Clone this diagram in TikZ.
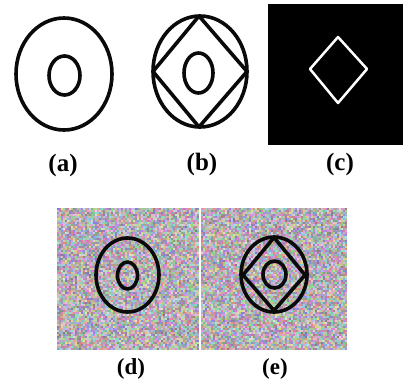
\documentclass[tikz,border=0pt]{standalone}
\usepackage{fontspec}
\setmainfont{Liberation Serif}
\usepackage{xcolor}
\definecolor{inkColor}{HTML}{0A0A0A}
\tikzset{
    ring/.style={draw=inkColor, line width=3.6pt, line join=round},
    caption/.style={font=\fontsize{25}{25}\selectfont\bfseries, inner sep=0pt},
    smallcaption/.style={font=\fontsize{23}{23}\selectfont\bfseries, inner sep=0pt},
}
% random coloured cells: #1,#2 = top left, #3,#4 = last cell index in x and y
\newcommand{\noisepatch}[4]{%
    \begin{scope}
        \clip (#1,#2) rectangle ++({2*(#3+1)},{2*(#4+1)});
        \foreach \i in {0,...,#3}
            \foreach \j in {0,...,#4} {
                \pgfmathrandominteger{\rr}{125}{235}%
                \pgfmathrandominteger{\gg}{120}{225}%
                \pgfmathrandominteger{\bb}{125}{235}%
                \definecolor{nz}{RGB}{\rr,\gg,\bb}%
                \fill[nz] ({#1+2*\i},{#2+2*\j}) rectangle +(2,2);
            }
    \end{scope}}

\begin{document}
\begin{tikzpicture}[x=1pt, y=-1pt]
    \useasboundingbox (0,0) rectangle (403,385);
    \pgfmathsetseed{42}
    % (a): ring with inner ellipse
    \draw[ring] (64,74) ellipse [x radius=48pt, y radius=56pt];
    \draw[ring] (64.5,75.5) ellipse [x radius=15.5pt, y radius=19.5pt];
    \node[caption] (capA) at (63,165) {(a)};
    % (b): ring, inscribed diamond, inner ellipse
    \draw[ring] (200,71.5) ellipse [x radius=47pt, y radius=55.5pt];
    \draw[ring] (199,16) -- (247,71.5) -- (199,127) -- (153,71.5) -- cycle;
    \draw[ring] (198.5,73) ellipse [x radius=14.5pt, y radius=20pt];
    \node[caption] (capB) at (202,164) {(b)};
    % (c): white diamond on black
    \fill[black] (268,4) rectangle (403,145);
    \draw[white, line width=2.5pt, line join=round] (338,37) -- (367,69) -- (338,103) -- (310,69) -- cycle;
    \node[caption] (capC) at (340,164) {(c)};
    % (d): noisy ring
    \noisepatch{57}{208}{70}{70}
    \draw[ring] (127.5,275) ellipse [x radius=31.5pt, y radius=37pt];
    \draw[ring] (127.5,275.5) ellipse [x radius=10pt, y radius=13.5pt];
    \node[smallcaption] (capD) at (131,369) {(d)};
    % (e): noisy ring with diamond
    \noisepatch{201}{208}{72}{70}
    \draw[ring] (274,274.5) ellipse [x radius=33pt, y radius=37.5pt];
    \draw[ring] (274,237.5) -- (305,275) -- (274,310.5) -- (243,275) -- cycle;
    \draw[ring] (274.5,274.5) ellipse [x radius=11.5pt, y radius=13.5pt];
    \node[smallcaption] (capE) at (275,369) {(e)};
\end{tikzpicture}
\end{document}
